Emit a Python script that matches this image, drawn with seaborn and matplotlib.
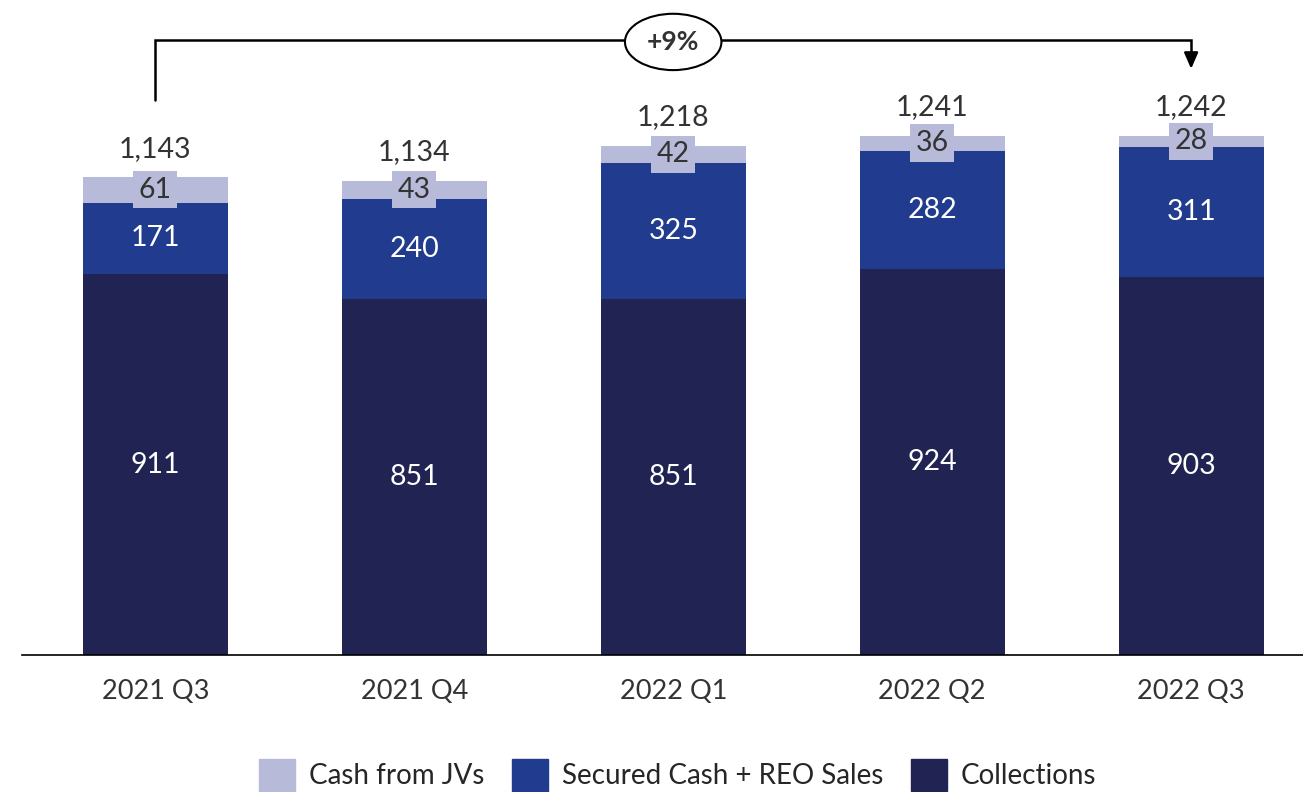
import pandas as pd
import matplotlib.pyplot as plt
import seaborn as sns
import numpy as np
from matplotlib.patches import Patch

sns.set_theme(style="white")
plt.rcParams['font.family'] = ['Lato', 'DejaVu Sans']

quarters = ['2021 Q3', '2021 Q4', '2022 Q1', '2022 Q2', '2022 Q3']
collections = [911, 851, 851, 924, 903]
secured = [171, 240, 325, 282, 311]
jvs = [61, 43, 42, 36, 28]
totals = [1143, 1134, 1218, 1241, 1242]

c_jv = '#B7BAD8'
c_sec = '#213B8E'
c_col = '#212452'
txt = '#333333'

df = pd.DataFrame({'quarter': quarters, 'collections': collections,
                   'secured': secured, 'jvs': jvs, 'total': totals})
df['col_sec'] = df['collections'] + df['secured']
df['all'] = df['col_sec'] + df['jvs']

fig = plt.figure(figsize=(13.03, 7.92), dpi=100)
ax = fig.add_axes([0.017, 0.173, 0.983, 0.792])

# stacked by overlapping cumulative bars
bar_kw = dict(width=0.56, saturation=1, ax=ax, order=quarters, linewidth=0, edgecolor='none')
sns.barplot(data=df, x='quarter', y='all', color=c_jv, **bar_kw)
sns.barplot(data=df, x='quarter', y='col_sec', color=c_sec, **bar_kw)
sns.barplot(data=df, x='quarter', y='collections', color=c_col, **bar_kw)

fs = 20.5
for i, r in df.iterrows():
    ax.text(i, r['collections'] / 2, f"{r['collections']}", ha='center', va='center', color='white', fontsize=fs)
    ax.text(i, r['collections'] + r['secured'] / 2, f"{r['secured']}", ha='center', va='center', color='white', fontsize=fs)
    ax.text(i, r['col_sec'] + r['jvs'] / 2, f"{r['jvs']}", ha='center', va='center', color=txt, fontsize=fs,
            bbox=dict(boxstyle='square,pad=0.2', fc=c_jv, ec='none'))
    ax.text(i, r['all'] + 68, f"{r['total']:,}", ha='center', va='center', color=txt, fontsize=fs)

# growth bracket
y_top = 1471
ax.plot([0, 0, 4, 4], [1328, y_top, y_top, 1440], color='black', lw=1.8, solid_joinstyle='miter')
ax.annotate('', xy=(4, 1395), xytext=(4, 1445),
            arrowprops=dict(arrowstyle='-|>,head_width=0.35,head_length=0.8', color='black', lw=1.8))
ax.text(2, y_top - 5, '+9%', ha='center', va='center', fontsize=19, fontweight='bold', color=txt,
        bbox=dict(boxstyle='ellipse,pad=0.3', fc='white', ec='black', lw=1.5))

ax.set_xlim(-0.514, 4.432)
ax.set_ylim(0, 1500)
ax.set_yticks([])
ax.set_xlabel('')
ax.set_ylabel('')
for s in ['top', 'right', 'left']:
    ax.spines[s].set_visible(False)
ax.spines['bottom'].set_color('black')
ax.spines['bottom'].set_linewidth(1.2)
ax.tick_params(axis='x', labelsize=19.5, colors=txt, length=0, pad=17)

handles = [Patch(color=c_jv, label='Cash from JVs'),
           Patch(color=c_sec, label='Secured Cash + REO Sales'),
           Patch(color=c_col, label='Collections')]
fig.legend(handles=handles, loc='lower center', bbox_to_anchor=(0.52, -0.03), ncol=3, frameon=False,
           fontsize=20, handlelength=1.3, handleheight=1.4, columnspacing=1.0, handletextpad=0.5)

fig.savefig('out.png', dpi=100)
